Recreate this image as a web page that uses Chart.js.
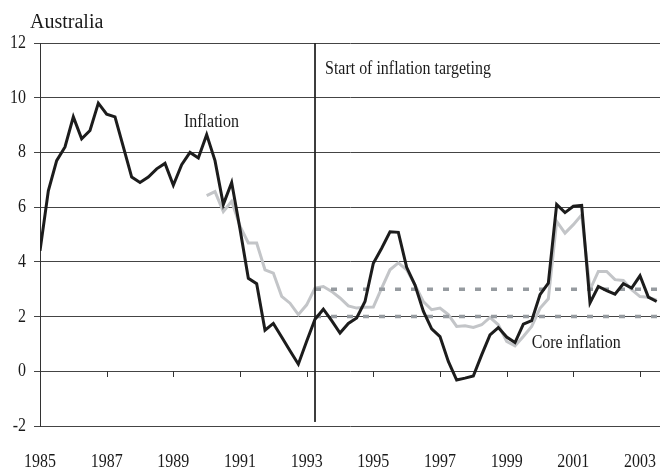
<!DOCTYPE html>
<html>
<head>
<meta charset="utf-8">
<script src="https://cdn.jsdelivr.net/npm/chart.js@4.4.1/dist/chart.umd.min.js"></script>
<style>
  html, body { margin: 0; padding: 0; background: #fff; }
  #wrap { position: relative; width: 660px; height: 469px; }
  #chart { display: block; }
  #title { position: absolute; left: 30px; top: 10px; font: 20px "Liberation Serif", serif; color: #1a1a1a; line-height: normal; }
</style>
</head>
<body>
<div id="wrap">
  <canvas id="chart" width="660" height="469"></canvas>
  <div id="title">Australia</div>
</div>
<script>
// quarterly, year-ended % change
const firstYear = 1985;
const inflation = [
  4.4, 6.6, 7.7, 8.2, 9.3, 8.5, 8.8, 9.8, 9.4, 9.3,
  8.2, 7.1, 6.9, 7.1, 7.4, 7.6, 6.8, 7.55, 8.0, 7.8,
  8.65, 7.7, 6.1, 6.9, 5.2, 3.4, 3.2, 1.5, 1.75, 1.25,
  0.75, 0.26, 1.1, 1.9, 2.27, 1.85, 1.4, 1.75, 1.95, 2.55,
  3.95, 4.5, 5.1, 5.08, 3.8, 3.15, 2.2, 1.55, 1.27, 0.36,
  -0.32, -0.25, -0.17, 0.6, 1.33, 1.6, 1.25, 1.05, 1.72, 1.85,
  2.8, 3.22, 6.1, 5.8, 6.03, 6.06, 2.5, 3.1, 2.95, 2.82,
  3.2, 3.04, 3.49, 2.71, 2.55
];

const coreStartYear = 1990;
const coreInflation = [
  6.42, 6.57, 5.84, 6.21, 5.3, 4.69, 4.69, 3.71, 3.59, 2.74,
  2.49, 2.07, 2.43, 3.04, 3.1, 2.92, 2.68, 2.39, 2.31, 2.34,
  2.35, 3.04, 3.71, 3.96, 3.71, 3.16, 2.55, 2.25, 2.31, 2.07,
  1.64, 1.66, 1.6, 1.7, 1.97, 1.7, 1.09, 0.93, 1.27, 1.64,
  2.3, 2.65, 5.48, 5.05, 5.36, 5.72, 2.98, 3.65, 3.65, 3.35,
  3.32, 2.98, 2.73, 2.71, 2.6
];

const targetingStart = 1993.25;
const targetBand = [2, 3];
const yearTicks = [1985, 1987, 1989, 1991, 1993, 1995, 1997, 1999, 2001, 2003];

const xMin = 1985, xMax = 2003.6;
const yMin = -2, yMax = 12;

const toPoints = (start, values) => values.map((v, i) => ({ x: start + i / 4, y: v }));

const serif = '"Liberation Serif", "Times New Roman", serif';
const textColor = '#1a1a1a';

// the source uses a condensed serif face, so squeeze canvas text horizontally
const squeeze = 0.84;
const canvas = document.getElementById('chart');
const ctx = canvas.getContext('2d');
const rawFillText = ctx.fillText.bind(ctx);
ctx.fillText = function (text, x, y) {
  this.save();
  this.translate(x, y);
  this.scale(squeeze, 1);
  rawFillText(text, 0, 0);
  this.restore();
};

const notes = [
  { text: 'Start of inflation targeting', x: 1993.55, y: 10.88 },
  { text: 'Inflation', x: 1989.32, y: 8.93 },
  { text: 'Core inflation', x: 1999.75, y: 0.85 }
];

const extras = {
  id: 'extras',
  beforeDatasetsDraw(chart) {
    const c = chart.ctx;
    const xs = chart.scales.x, ys = chart.scales.y;
    const y0 = Math.round(ys.getPixelForValue(0));
    c.save();
    c.strokeStyle = '#333';
    c.lineWidth = 1;
    c.beginPath();
    yearTicks.forEach(v => {
      const px = Math.round(xs.getPixelForValue(v)) + 0.5;
      c.moveTo(px, y0);
      c.lineTo(px, y0 + 6);
    });
    c.stroke();
    c.restore();
  },
  afterDatasetsDraw(chart) {
    const c = chart.ctx;
    const xs = chart.scales.x, ys = chart.scales.y;
    c.save();
    c.font = '19px ' + serif;
    c.fillStyle = textColor;
    c.textAlign = 'left';
    c.textBaseline = 'alphabetic';
    notes.forEach(n => c.fillText(n.text, xs.getPixelForValue(n.x), ys.getPixelForValue(n.y)));
    c.restore();
  }
};

new Chart(ctx, {
  type: 'line',
  data: {
    datasets: [
      {
        label: 'Inflation',
        data: toPoints(firstYear, inflation),
        borderColor: '#1c1c1c',
        borderWidth: 3,
        pointRadius: 0
      },
      {
        label: 'Start of inflation targeting',
        data: [{ x: targetingStart, y: yMax }, { x: targetingStart, y: -1.85 }],
        borderColor: '#222',
        borderWidth: 1,
        pointRadius: 0
      },
      {
        label: 'Target top',
        data: [{ x: targetingStart, y: targetBand[1] }, { x: xMax, y: targetBand[1] }],
        borderColor: '#969ba0',
        borderWidth: 3.5,
        borderDash: [6, 10],
        pointRadius: 0
      },
      {
        label: 'Target bottom',
        data: [{ x: targetingStart, y: targetBand[0] }, { x: xMax, y: targetBand[0] }],
        borderColor: '#969ba0',
        borderWidth: 3.5,
        borderDash: [6, 10],
        pointRadius: 0
      },
      {
        label: 'Core inflation',
        data: toPoints(coreStartYear, coreInflation),
        borderColor: '#c3c5c8',
        borderWidth: 3,
        pointRadius: 0
      }
    ]
  },
  options: {
    responsive: false,
    animation: false,
    devicePixelRatio: 1,
    layout: { padding: { top: 43, right: 0, bottom: 0, left: 0 } },
    plugins: {
      legend: { display: false },
      tooltip: { enabled: false }
    },
    scales: {
      x: {
        type: 'linear',
        min: xMin,
        max: xMax,
        afterBuildTicks: s => { s.ticks = yearTicks.map(v => ({ value: v })); },
        afterFit: s => {
          s.height = 43;
          s.paddingLeft = 0;
          s.paddingRight = 0;
        },
        grid: { display: false },
        border: { display: false },
        ticks: {
          autoSkip: false,
          maxRotation: 0,
          padding: 17,
          color: textColor,
          font: { family: serif, size: 19 },
          callback: v => String(v)
        }
      },
      y: {
        min: yMin,
        max: yMax,
        afterFit: s => {
          s.width = 40;
          s.paddingTop = 0;
          s.paddingBottom = 0;
        },
        grid: { color: '#444', lineWidth: 1, tickLength: 6 },
        border: { color: '#333', width: 1 },
        ticks: {
          stepSize: 2,
          padding: 8,
          color: textColor,
          font: { family: serif, size: 19 }
        }
      }
    }
  },
  plugins: [extras]
});
</script>
</body>
</html>
